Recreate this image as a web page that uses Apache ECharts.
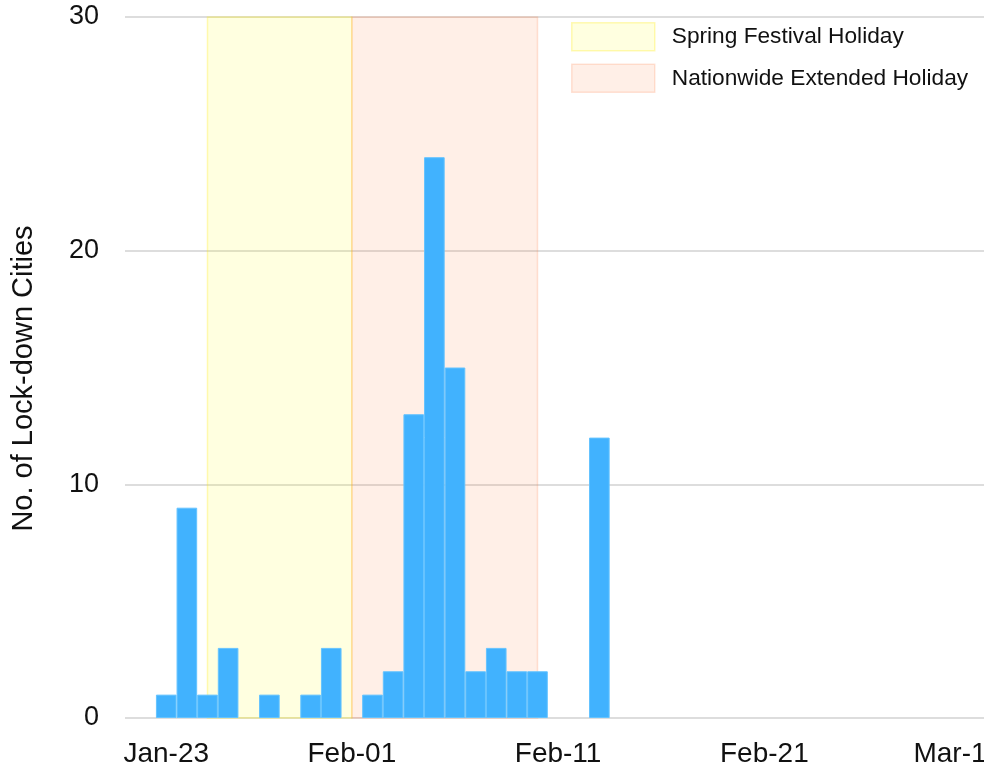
<!DOCTYPE html>
<html>
<head>
<meta charset="utf-8">
<script src="https://cdn.jsdelivr.net/npm/echarts@6/dist/echarts.min.js"></script>
<style>
html,body{margin:0;padding:0;background:#fff;}
#chart{width:984px;height:771px;}
</style>
</head>
<body>
<div id="chart"></div>
<script>
// ---- data ----
const dates = ['2020-01-23','2020-01-24','2020-01-25','2020-01-26','2020-01-27','2020-01-28','2020-01-29','2020-01-30','2020-01-31','2020-02-01','2020-02-02','2020-02-03','2020-02-04','2020-02-05','2020-02-06','2020-02-07','2020-02-08','2020-02-09','2020-02-10','2020-02-11','2020-02-12','2020-02-13'];
const lockdownCities = [1,9,1,3,0,1,0,1,3,0,1,2,13,24,15,2,3,2,2,0,0,12];
const tickDates = ['2020-01-23','2020-02-01','2020-02-11','2020-02-21','2020-03-01'];
const tickLabels = ['Jan-23','Feb-01','Feb-11','Feb-21','Mar-1'];
const holidayNames = ['Spring Festival Holiday','Nationwide Extended Holiday'];
const holidayStarts = ['2020-01-25','2020-02-01'];
const holidayEnds = ['2020-02-01','2020-02-10'];
const yTicks = [0,10,20,30];

// ---- helpers ----
const base = Date.UTC(2020,0,23);
function dayOffset(s){
  const p = s.split('-').map(Number);
  return Math.round((Date.UTC(p[0],p[1]-1,p[2]) - base)/86400000);
}
const tickOffsets = tickDates.map(dayOffset);
const barData = [];
dates.forEach((d,i)=>{ if(lockdownCities[i] > 0) barData.push([dayOffset(d), lockdownCities[i]]); });

const holidayFills = ['rgba(255,255,0,0.12)','rgba(255,120,60,0.12)'];
const holidayBorders = ['rgba(255,235,0,0.28)','rgba(255,120,60,0.20)'];
const FONT = '"Liberation Sans", Arial, Helvetica, sans-serif';

const holidaySeries = holidayNames.map((name,i)=>({
  name: name,
  type: 'line',
  data: [],
  silent: true,
  markArea: {
    silent: true,
    itemStyle: {color: holidayFills[i], borderColor: holidayBorders[i], borderWidth: 1.5},
    label: {show: false},
    data: [[{xAxis: dayOffset(holidayStarts[i])},{xAxis: dayOffset(holidayEnds[i])}]]
  }
}));

const chart = echarts.init(document.getElementById('chart'));
chart.setOption({
  animation: false,
  backgroundColor: '#fff',
  textStyle: {fontFamily: FONT},
  grid: {left: 125, right: 0, top: 17, bottom: 53, containLabel: false, outerBoundsMode: 'none'},
  legend: {
    orient: 'vertical',
    left: 571, top: 22,
    padding: 0,
    itemWidth: 83, itemHeight: 28, itemGap: 12,
    selectedMode: false,
    textStyle: {fontFamily: FONT, fontSize: 22.7, color: '#111', padding: [0,0,0,12]},
    data: holidayNames.map((n,i)=>({
      name: n, icon: 'rect',
      itemStyle: {color: holidayFills[i], borderColor: holidayBorders[i], borderWidth: 1.5}
    }))
  },
  xAxis: {
    type: 'value',
    min: -2, max: 39.65,
    axisLine: {show: false},
    axisTick: {show: false},
    splitLine: {show: false},
    axisLabel: {
      customValues: tickOffsets,
      margin: 22,
      fontSize: 28, color: '#111', fontFamily: FONT,
      formatter: function(v){ const k = tickOffsets.indexOf(Math.round(v)); return k >= 0 ? tickLabels[k] : ''; }
    }
  },
  yAxis: {
    type: 'value',
    min: 0, max: 30, interval: 10,
    name: 'No. of Lock-down Cities',
    nameLocation: 'middle',
    nameGap: 87,
    nameTextStyle: {fontSize: 29, color: '#111', fontFamily: FONT, padding: [0,22,0,0]},
    axisLine: {show: false},
    axisTick: {show: false},
    axisLabel: {margin: 26, fontSize: 27, color: '#111', fontFamily: FONT,
      formatter: function(v){ return yTicks.indexOf(v) >= 0 ? String(v) : ''; }},
    splitLine: {lineStyle: {color: '#d2d2d2', width: 1.5}}
  },
  series: holidaySeries.concat([{
    name: 'Lock-down Cities',
    type: 'bar',
    z: 5,
    barWidth: '100%',
    barCategoryGap: '0%',
    itemStyle: {color: '#41b2fe', borderColor: '#64c3ff', borderWidth: 1},
    data: barData
  }])
});
</script>
</body>
</html>
